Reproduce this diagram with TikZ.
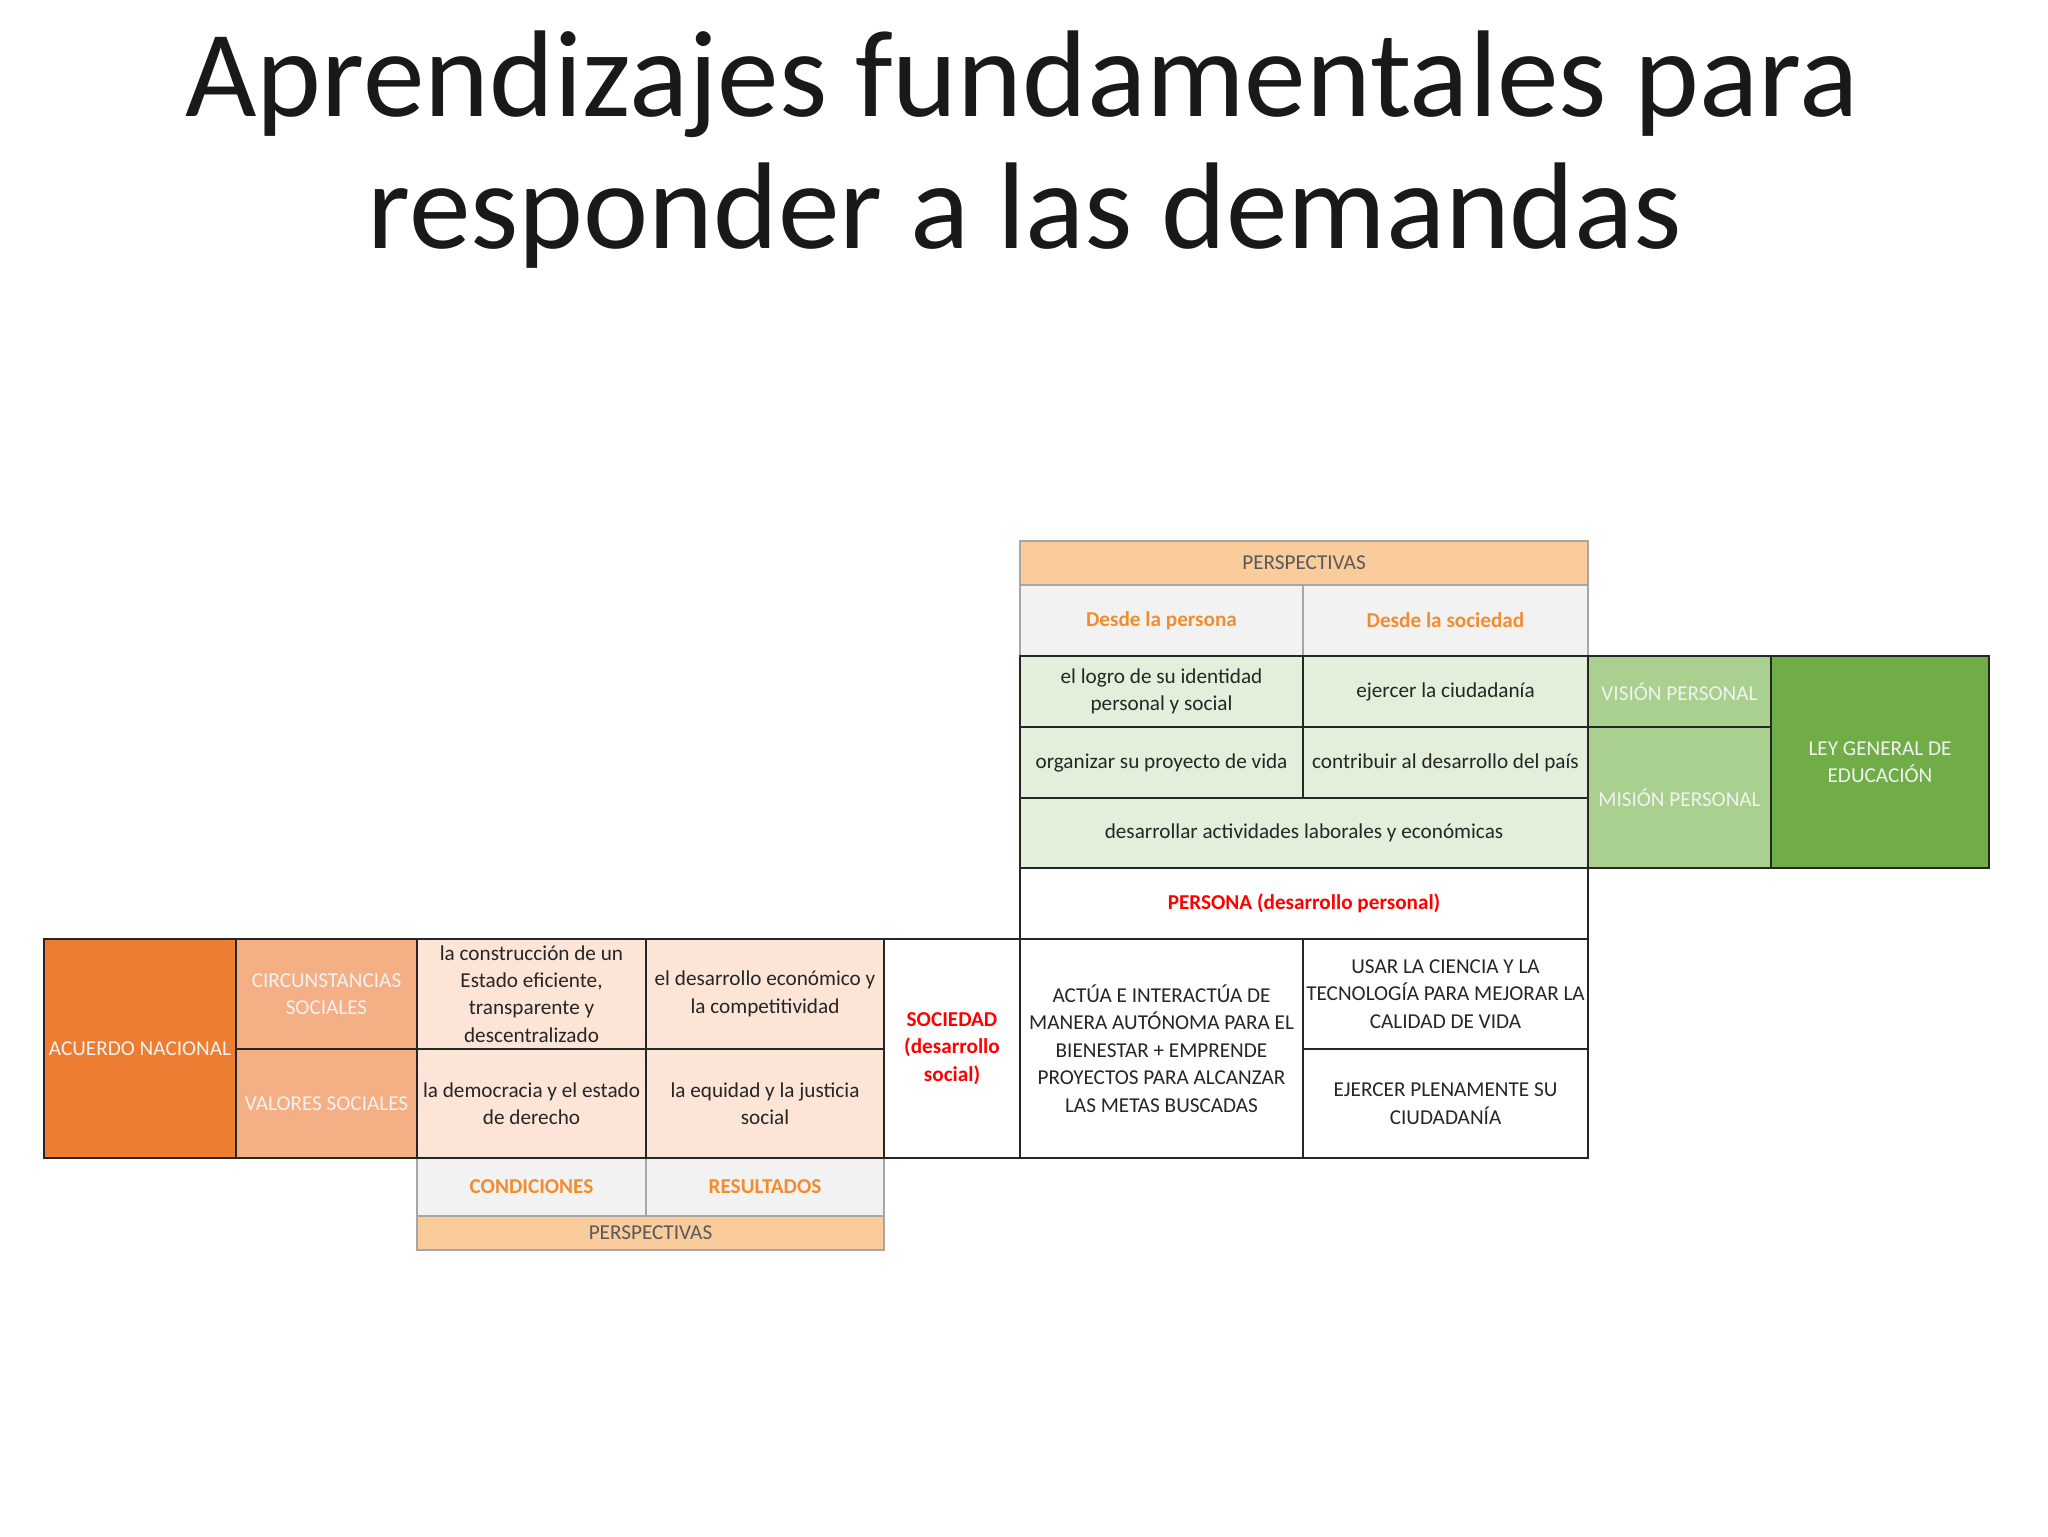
\documentclass[tikz,border=0pt]{standalone}
\usepackage{fontspec}
\setmainfont{Carlito}
\definecolor{hdr}{HTML}{FACB9B}
\definecolor{hdrtxt}{HTML}{595959}
\definecolor{greyfill}{HTML}{F2F2F2}
\definecolor{orangetxt}{HTML}{F28C2C}
\definecolor{lgreen}{HTML}{E2EFDA}
\definecolor{mgreen}{HTML}{A9D08E}
\definecolor{dgreen}{HTML}{70AD47}
\definecolor{dorange}{HTML}{ED7D31}
\definecolor{morange}{HTML}{F4B084}
\definecolor{lorange}{HTML}{FCE4D6}
\definecolor{darkline}{HTML}{262626}
\definecolor{greyline}{HTML}{A6A6A6}
\definecolor{bodytxt}{HTML}{262626}
\definecolor{paletxt}{HTML}{F2F2F2}
\newcommand\mycell[7]{%
  \pgfmathsetmacro\cw{(#4-#2)*0.5}%
  \pgfmathsetmacro\ch{(#5-#3)*0.5}%
  \node[cellbase,#6,minimum width=\cw pt,minimum height=\ch pt] (#1) at ({(#2+#4)/2},{(#3+#5)/2}) {#7};}
\begin{document}
\begin{tikzpicture}[x=0.5pt,y=-0.5pt,
  cellbase/.style={rectangle,inner sep=0pt,align=center,line width=1pt,font=\fontsize{10.6}{13.7}\selectfont,text=bodytxt},
  hdrcell/.style={draw=greyline,fill=hdr,text=hdrtxt},
  desdecell/.style={draw=greyline,fill=greyfill,text=orangetxt,font=\fontsize{10.6}{13.7}\selectfont\bfseries},
  greencell/.style={draw=darkline,fill=lgreen},
  midgreen/.style={draw=darkline,fill=mgreen,text=paletxt},
  darkgreen/.style={draw=darkline,fill=dgreen,text=paletxt},
  whitecell/.style={draw=darkline,fill=white},
  redcell/.style={draw=darkline,fill=white,text=red,font=\fontsize{10.6}{13.7}\selectfont\bfseries},
  darkorange/.style={draw=darkline,fill=dorange,text=paletxt},
  midorange/.style={draw=darkline,fill=morange,text=paletxt},
  lightorange/.style={draw=darkline,fill=lorange},
  titletxt/.style={font=\fontsize{61.7}{61.7}\selectfont,text=black!90,inner sep=0pt,anchor=base}
]
\useasboundingbox (0,0) rectangle (2048,1536);
\fill[white] (0,0) rectangle (2048,1536);
% title
\node[titletxt] (t1) at (1022,117) {Aprendizajes fundamentales para};
\node[titletxt] (t2) at (1025,248) {responder a las demandas};
% grey-bordered cells first
\mycell{persp1}{1020}{541}{1588}{585}{hdrcell}{PERSPECTIVAS}
\mycell{desde1}{1020}{585}{1303}{656}{desdecell}{Desde la persona}
\mycell{desde2}{1303}{585}{1588}{656}{desdecell}{Desde la sociedad}
\mycell{cond}{417}{1158}{646}{1216}{desdecell}{CONDICIONES}
\mycell{res}{646}{1158}{884}{1216}{desdecell}{RESULTADOS}
\mycell{persp2}{417}{1216}{884}{1250}{hdrcell}{PERSPECTIVAS}
% green block
\mycell{g11}{1020}{656}{1303}{727}{greencell}{el logro de su identidad\\personal y social}
\mycell{g12}{1303}{656}{1588}{727}{greencell}{ejercer la ciudadanía}
\mycell{g21}{1020}{727}{1303}{798}{greencell}{organizar su proyecto de vida}
\mycell{g22}{1303}{727}{1588}{798}{greencell}{contribuir al desarrollo del país}
\mycell{g3}{1020}{798}{1588}{868}{greencell}{desarrollar actividades laborales y económicas}
\mycell{vision}{1588}{656}{1771}{727}{midgreen}{VISIÓN PERSONAL}
\mycell{mision}{1588}{727}{1771}{868}{midgreen}{MISIÓN PERSONAL}
\mycell{ley}{1771}{656}{1989}{868}{darkgreen}{LEY GENERAL DE\\EDUCACIÓN}
% persona rows
\mycell{persona}{1020}{868}{1588}{939}{redcell}{PERSONA (desarrollo personal)}
\mycell{actua}{1020}{939}{1303}{1158}{whitecell}{ACTÚA E INTERACTÚA DE\\MANERA AUTÓNOMA PARA EL\\BIENESTAR + EMPRENDE\\PROYECTOS PARA ALCANZAR\\LAS METAS BUSCADAS}
\mycell{usar}{1303}{939}{1588}{1049}{whitecell}{USAR LA CIENCIA Y LA\\TECNOLOGÍA PARA MEJORAR LA\\CALIDAD DE VIDA}
\mycell{ejercer}{1303}{1049}{1588}{1158}{whitecell}{EJERCER PLENAMENTE SU\\CIUDADANÍA}
\mycell{sociedad}{884}{939}{1020}{1158}{redcell}{SOCIEDAD\\(desarrollo\\social)}
% orange block
\mycell{acuerdo}{44}{939}{236}{1158}{darkorange}{ACUERDO NACIONAL}
\mycell{circ}{236}{939}{417}{1049}{midorange}{CIRCUNSTANCIAS\\SOCIALES}
\mycell{valores}{236}{1049}{417}{1158}{midorange}{VALORES SOCIALES}
\mycell{c11}{417}{939}{646}{1049}{lightorange}{la construcción de un\\Estado eficiente,\\transparente y\\descentralizado}
\mycell{c12}{646}{939}{884}{1049}{lightorange}{el desarrollo económico y\\la competitividad}
\mycell{c21}{417}{1049}{646}{1158}{lightorange}{la democracia y el estado\\de derecho}
\mycell{c22}{646}{1049}{884}{1158}{lightorange}{la equidad y la justicia\\social}
\end{tikzpicture}
\end{document}
